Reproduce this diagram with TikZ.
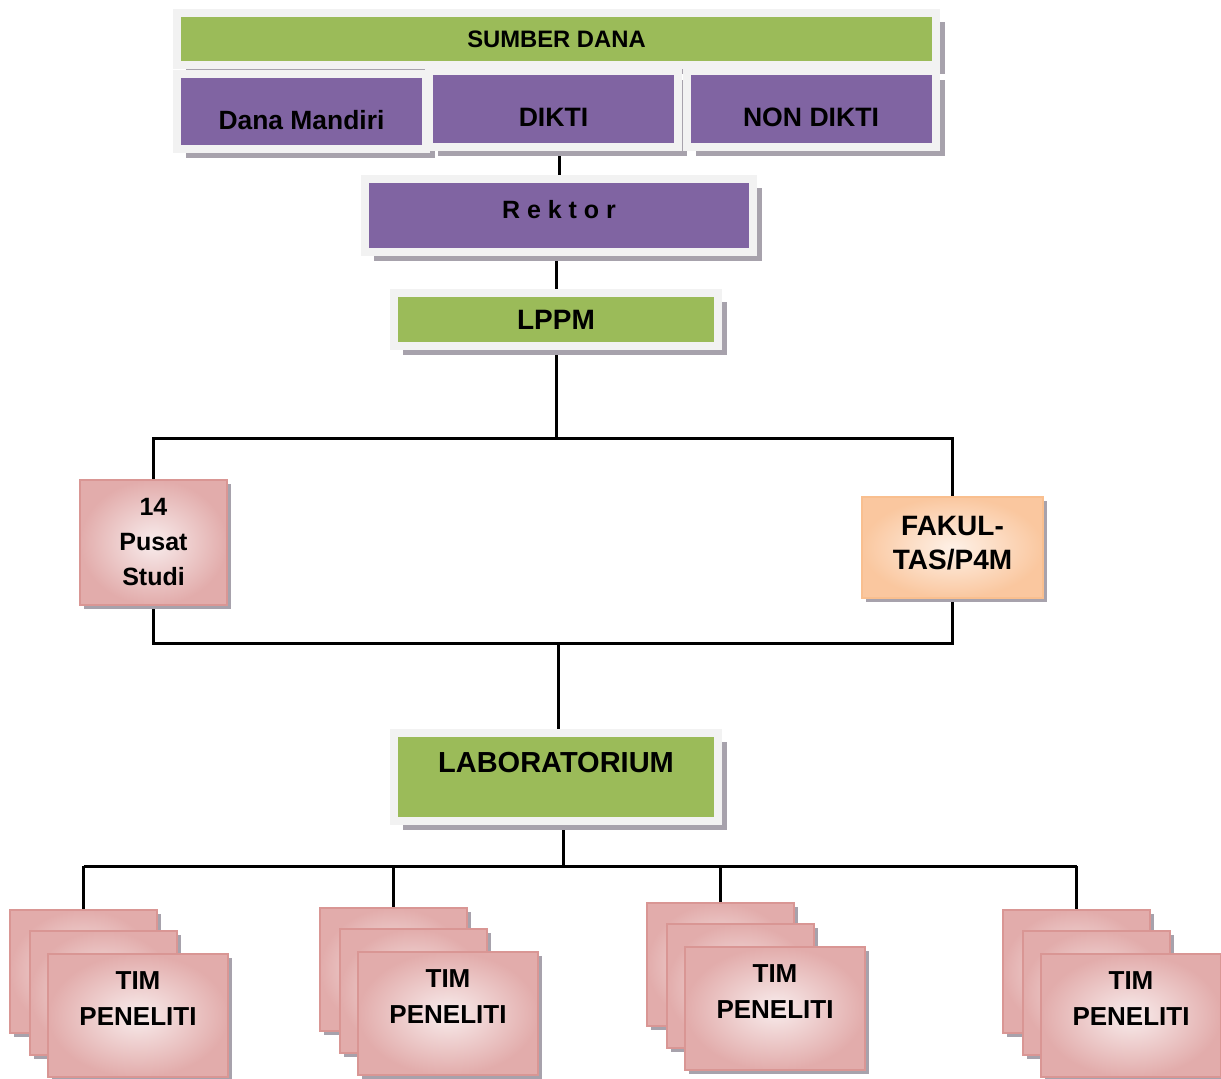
\documentclass[tikz,border=0pt]{standalone}
\usepackage{fontspec}
\setmainfont{Liberation Sans}
\usepackage{tikz}
\usetikzlibrary{shadows, backgrounds}
\usepackage{xcolor}

\definecolor{dgreen}{HTML}{9BBB59}
\definecolor{dpurple}{HTML}{8064A2}
\definecolor{framegray}{HTML}{F2F2F2}
\definecolor{shadowgray}{HTML}{A7A2AC}
\definecolor{pinkline}{HTML}{D99694}
\definecolor{pinkout}{HTML}{E2ACAB}
\definecolor{pinkin}{HTML}{F8ECEC}
\definecolor{orangeline}{HTML}{F9BF8F}
\definecolor{orangeout}{HTML}{FAC79F}
\definecolor{orangein}{HTML}{FEF1E7}

\tikzset{
    framed/.style={draw=framegray, line width=4pt, inner sep=0pt,
        drop shadow={shadow xshift=4.5pt, shadow yshift=-4.5pt, fill=shadowgray, opacity=1}},
    greenbox/.style={framed, fill=dgreen},
    purplebox/.style={framed, fill=dpurple},
    pinkbox/.style={draw=pinkline, line width=0.6pt, inner color=pinkin, outer color=pinkout,
        align=center, inner sep=0pt,
        drop shadow={shadow xshift=2pt, shadow yshift=-2pt, fill=shadowgray, opacity=1}},
    orangebox/.style={pinkbox, draw=orangeline, inner color=orangein, outer color=orangeout},
    link/.style={line width=1.5pt}
}

\begin{document}
\begin{tikzpicture}[x=0.5pt, y=-0.5pt]
    \useasboundingbox (0,0) rectangle (1221,1078);

    % sumber dana
    \node[greenbox, minimum width=379.5pt, minimum height=26pt,
        font=\bfseries\fontsize{11.9pt}{14pt}\selectfont] (sumber) at (556.5,39) {SUMBER DANA};
    \node[purplebox, minimum width=124.5pt, minimum height=37.5pt, text height=18pt,
        font=\bfseries\fontsize{13.2pt}{16pt}\selectfont] (mandiri) at (301.5,111.5) {Dana Mandiri};
    \node[purplebox, minimum width=124.5pt, minimum height=38pt, text height=17.5pt,
        font=\bfseries\fontsize{13.3pt}{16pt}\selectfont] (dikti) at (553.5,109) {DIKTI};
    \node[purplebox, minimum width=124.5pt, minimum height=38pt, text height=17.5pt,
        font=\bfseries\fontsize{13.3pt}{16pt}\selectfont] (nondikti) at (811,109) {NON DIKTI};

    \node[purplebox, minimum width=194pt, minimum height=36.5pt, text depth=6.5pt,
        font=\bfseries\fontsize{12.5pt}{14pt}\selectfont] (rektor) at (559,215.5) {R e k t o r};
    \node[greenbox, minimum width=162pt, minimum height=26.5pt,
        font=\bfseries\fontsize{14pt}{16pt}\selectfont] (lppm) at (556,319.5) {LPPM};

    \node[pinkbox, minimum width=73.5pt, minimum height=62.5pt,
        font=\bfseries\fontsize{12.5pt}{17.5pt}\selectfont] (pusat) at (153.5,542.5) {14\\Pusat\\Studi};
    \node[orangebox, minimum width=90.5pt, minimum height=50.5pt, text depth=4.5pt,
        font=\bfseries\fontsize{14pt}{17pt}\selectfont] (fak) at (952.5,547.5) {FAKUL-\\TAS/P4M};

    \node[greenbox, minimum width=162pt, minimum height=44pt, text depth=15pt,
        font=\bfseries\fontsize{14.5pt}{16pt}\selectfont] (lab) at (556,777) {LABORATORIUM};

    % tim peneliti, three sheets each
    \foreach \i/\dx/\dy in {1/0/0, 2/310/-2, 3/637/-7, 4/993/0} {
        \node[pinkbox, minimum width=73.5pt, minimum height=61.5pt] (back\i) at (83.5+\dx, 971.5+\dy) {};
        \node[pinkbox, minimum width=73.5pt, minimum height=62pt] (mid\i) at (103.5+\dx, 993+\dy) {};
        \node[pinkbox, minimum width=90pt, minimum height=61.5pt, text depth=16.5pt,
            font=\bfseries\fontsize{13pt}{18pt}\selectfont] (tim\i) at (138+\dx, 1015.5+\dy) {TIM\\PENELITI};
    }

    \begin{pgfonlayer}{background}
        \draw[link] (rektor.north) -- (rektor.north |- dikti.south);
        \draw[link] (lppm.north) -- (lppm.north |- rektor.south);
        \coordinate (bus1) at (556,438);
        \draw[link] (lppm.south) -- (bus1);
        \draw[link] (pusat.north) -- (pusat.north |- bus1) -- (fak.north |- bus1) -- (fak.north);
        \coordinate (bus2) at (558,643);
        \draw[link] (pusat.south) -- (pusat.south |- bus2) -- (fak.south |- bus2) -- (fak.south);
        \draw[link] (bus2) -- (lab.north -| bus2);
        \coordinate (bus3) at (563,866);
        \draw[link] (lab.south -| bus3) -- (bus3);
        \draw[link] (back1.north |- bus3) -- (back4.north |- bus3);
        \foreach \i in {1,...,4}
            \draw[link] (back\i.north) -- (back\i.north |- bus3);
    \end{pgfonlayer}
\end{tikzpicture}
\end{document}
